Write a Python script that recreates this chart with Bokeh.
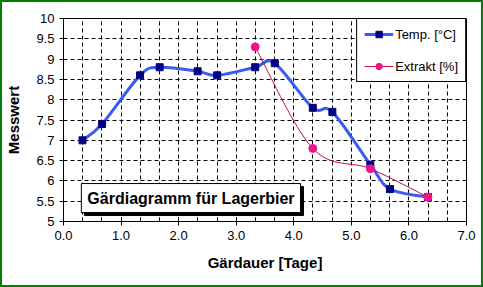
from bokeh.plotting import figure
from bokeh.layouts import column
from bokeh.models import (FixedTicker, NumeralTickFormatter, Label, Legend, LegendItem)
from bokeh.embed import file_html
from bokeh.resources import INLINE

# ---- data ----
temp_days = [0.33, 0.67, 1.33, 1.67, 2.33, 2.67, 3.33, 3.67, 4.33, 4.67, 5.33, 5.67, 6.33]
temp_vals = [7.0, 7.4, 8.6, 8.8, 8.7, 8.6, 8.8, 8.9, 7.8, 7.7, 6.4, 5.8, 5.6]
ext_days = [3.33, 4.33, 5.33, 6.33]
ext_vals = [9.3, 6.8, 6.3, 5.6]
x_label_ticks = [0, 1, 2, 3, 4, 5, 6, 7]
x_grid_ticks = [k / 3 for k in range(22)]
y_ticks = [5, 5.5, 6, 6.5, 7, 7.5, 8, 8.5, 9, 9.5, 10]
series_names = ["Temp. [°C]", "Extrakt [%]"]
title_text = "Gärdiagramm für Lagerbier"

FONT = "Liberation Sans"
NAN = float("nan")


def smooth_segments(xs, ys):
    """Bezier control points (Catmull-Rom style) for a smoothed line through the data."""
    n = len(xs)
    d = dict(x0=[], y0=[], x1=[], y1=[], cx0=[], cy0=[], cx1=[], cy1=[])
    for i in range(n - 1):
        xp, yp = (xs[i - 1], ys[i - 1]) if i > 0 else (xs[i], ys[i])
        xn, yn = (xs[i + 2], ys[i + 2]) if i + 2 < n else (xs[i + 1], ys[i + 1])
        d["x0"].append(xs[i]); d["y0"].append(ys[i])
        d["x1"].append(xs[i + 1]); d["y1"].append(ys[i + 1])
        d["cx0"].append(xs[i] + (xs[i + 1] - xp) / 6)
        d["cy0"].append(ys[i] + (ys[i + 1] - yp) / 6)
        d["cx1"].append(xs[i + 1] - (xn - xs[i]) / 6)
        d["cy1"].append(ys[i + 1] - (yn - ys[i]) / 6)
    return d


p = figure(width=479, height=283, x_range=(0, 7), y_range=(5, 10),
           output_backend="svg", toolbar_location=None,
           min_border_left=59, min_border_right=15, min_border_top=16, min_border_bottom=64)
p.background_fill_color = "white"
p.border_fill_color = "white"
p.outline_line_color = "black"
p.outline_line_width = 1
p.outline_line_alpha = 1

# axes
p.xaxis.ticker = FixedTicker(ticks=x_label_ticks, minor_ticks=x_grid_ticks)
p.xaxis.formatter = NumeralTickFormatter(format="0.0")
p.yaxis.ticker = FixedTicker(ticks=y_ticks)
p.yaxis.formatter = NumeralTickFormatter(format="0.[0]")
for ax in (p.xaxis[0], p.yaxis[0]):
    ax.axis_line_color = "black"
    ax.major_tick_line_color = "black"
    ax.minor_tick_line_color = "black"
    ax.major_label_text_font = FONT
    ax.major_label_text_font_size = "13px"
    ax.major_label_text_color = "black"
    ax.axis_label_text_font = FONT
    ax.axis_label_text_font_size = "15px"
    ax.axis_label_text_font_style = "bold"
    ax.axis_label_text_color = "black"
p.xaxis.axis_label = "Gärdauer [Tage]"
p.yaxis.axis_label = "Messwert"
p.xaxis.major_tick_in = 4
p.xaxis.major_tick_out = 4
p.xaxis.minor_tick_in = 4
p.xaxis.minor_tick_out = 0
p.xaxis.major_label_standoff = 5
p.xaxis.axis_label_standoff = 11
p.yaxis.major_tick_in = 0
p.yaxis.major_tick_out = 4
p.yaxis.minor_tick_line_color = None
p.yaxis.major_label_standoff = 5
p.yaxis.axis_label_standoff = 11

# grid
p.xgrid.ticker = FixedTicker(ticks=x_grid_ticks)
for g in (p.xgrid[0], p.ygrid[0]):
    g.grid_line_color = "black"
    g.grid_line_dash = "4 3"
    g.grid_line_width = 1
    g.grid_line_alpha = 1
p.ygrid.ticker = FixedTicker(ticks=y_ticks)

TEMP_LINE = "#3a5bf0"
TEMP_MARK = "#000080"
EXT_LINE = "#cc1030"
EXT_MARK = "#f0148c"

# Temp series
ts = smooth_segments(temp_days, temp_vals)
p.bezier(x0="x0", y0="y0", x1="x1", y1="y1", cx0="cx0", cy0="cy0", cx1="cx1", cy1="cy1",
         source=ts, line_color=TEMP_LINE, line_width=3)
t_pts = p.scatter(temp_days, temp_vals, marker="square", size=7,
                  fill_color=TEMP_MARK, line_color=TEMP_MARK)

# Extrakt series
es = smooth_segments(ext_days, ext_vals)
p.bezier(x0="x0", y0="y0", x1="x1", y1="y1", cx0="cx0", cy0="cy0", cx1="cx1", cy1="cy1",
         source=es, line_color=EXT_LINE, line_width=1)
e_pts = p.scatter(ext_days, ext_vals, marker="circle", size=8,
                  fill_color=EXT_MARK, line_color=EXT_MARK)

# legend proxies (no visible data)
t_leg_line = p.line([NAN, NAN], [NAN, NAN], line_color=TEMP_LINE, line_width=3)
e_leg_line = p.line([NAN, NAN], [NAN, NAN], line_color=EXT_LINE, line_width=1)
legend = Legend(items=[
    LegendItem(label=series_names[0], renderers=[t_leg_line, t_pts]),
    LegendItem(label=series_names[1], renderers=[e_leg_line, e_pts]),
], location="top_right")
legend.margin = 0
legend.padding = 7
legend.spacing = 16
legend.glyph_width = 29
legend.glyph_height = 16
legend.label_height = 16
legend.label_standoff = 2
legend.label_text_font = FONT
legend.label_text_font_size = "13px"
legend.label_text_color = "black"
legend.border_line_color = "black"
legend.border_line_width = 1
legend.border_line_alpha = 1
legend.background_fill_color = "white"
legend.background_fill_alpha = 1
p.add_layout(legend, "center")

# title box with shadow
for off, bg in ((3, "black"), (0, "white")):
    lab = Label(x=0.31, y=5.935, x_units="data", y_units="data",
                x_offset=off, y_offset=-off, text=title_text,
                text_font=FONT, text_font_size="16px", text_font_style="bold",
                text_color="black", text_align="left", text_baseline="top",
                padding=6, background_fill_color=bg, background_fill_alpha=1,
                border_line_color="black", border_line_width=1)
    p.add_layout(lab)

page = column(p, styles={"border": "2px solid #008000", "background-color": "white"})
open("out.html", "w").write(file_html(page, INLINE))
